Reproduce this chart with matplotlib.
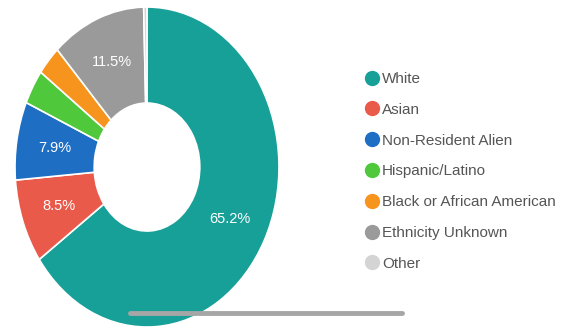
import matplotlib.pyplot as plt
from matplotlib.lines import Line2D

plt.rcParams['font.family'] = ['Liberation Sans', 'DejaVu Sans']

# share of students by ethnicity, clockwise from 12 o'clock
groups = ["White", "Asian", "Non-Resident Alien", "Hispanic/Latino",
          "Black or African American", "Ethnicity Unknown", "Other"]
shares = [65.2, 8.5, 7.9, 3.5, 3.0, 11.5, 0.4]
colors = ["#17a098", "#ea5a4b", "#1e6ec4", "#4fc83c", "#f7941e", "#9a9a9a", "#d4d4d4"]


def pct_label(p):
    return f"{p:.1f}%" if p > 5 else ""


fig = plt.figure(figsize=(5.66, 3.29), dpi=100)
ax = fig.add_axes([0.0265, 0.006, 0.4664, 0.9726])

wedges, _, autotexts = ax.pie(
    shares, colors=colors, startangle=90, counterclock=False,
    autopct=pct_label, pctdistance=0.71,
    wedgeprops=dict(width=0.6, edgecolor="white", linewidth=1.2),
    textprops=dict(color="white", fontsize=10.5),
)
ax.set_aspect("auto")
ax.set_xlim(-1.0, 1.0)
ax.set_ylim(-1.0, 1.0)
ax.axis("off")

handles = [Line2D([], [], marker="o", linestyle="", markersize=10,
                  markerfacecolor=c, markeredgecolor=c) for c in colors]
fig.legend(handles, groups, loc="upper left", bbox_to_anchor=(0.62, 0.823),
           frameon=False, fontsize=11, labelspacing=1.1, handletextpad=0.15,
           handlelength=1.0, labelcolor="#555555")

# grey rule under the chart
fig.add_artist(Line2D([130 / 566, 402 / 566], [1 - 313 / 329] * 2,
                      color="#a6a6a6", linewidth=3.5, solid_capstyle="round", zorder=5))

fig.savefig("out.png", dpi=100)
